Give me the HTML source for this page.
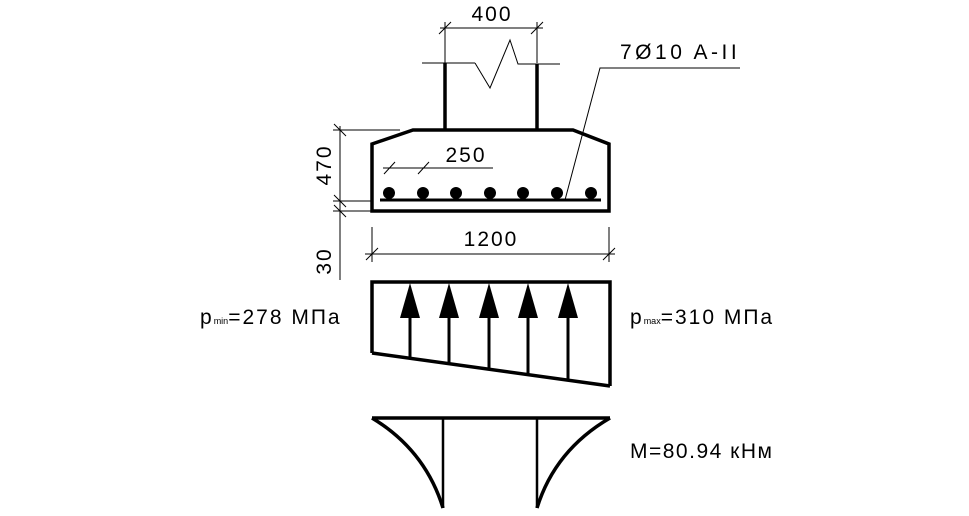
<!DOCTYPE html>
<html><head><meta charset="utf-8"><style>body{margin:0;background:#fff}svg{display:block}text{font-family:"Liberation Sans",sans-serif;fill:#000;font-weight:300}</style></head><body>
<svg width="969" height="516" viewBox="0 0 969 516" xmlns="http://www.w3.org/2000/svg">
<g stroke="#000" fill="none" stroke-width="1">
<line x1="422" y1="63" x2="475" y2="63"/>
<polyline points="475,63 490,88 510,40 518,64 560,64"/>
<line x1="445" y1="63" x2="445" y2="130" stroke-width="3.5"/>
<line x1="537" y1="64" x2="537" y2="130" stroke-width="3.5"/>
<line x1="445" y1="22" x2="445" y2="63"/><line x1="537" y1="22" x2="537" y2="63"/>
<line x1="440" y1="28" x2="543" y2="28"/>
<line x1="439" y1="34" x2="451" y2="22"/><line x1="531" y1="34" x2="543" y2="22"/>
<polygon points="372,144 413,130 573,130 609,144 609,211 372,211" stroke-width="3.5"/>
<line x1="380" y1="200" x2="601" y2="200" stroke-width="3"/>
<line x1="340" y1="126" x2="340" y2="280"/>
<line x1="333" y1="130" x2="400" y2="130"/>
<line x1="333" y1="201" x2="372" y2="201"/>
<line x1="333" y1="211" x2="372" y2="211"/>
<line x1="334" y1="124" x2="346" y2="136"/><line x1="334" y1="195" x2="346" y2="207"/><line x1="334" y1="205" x2="346" y2="217"/>
<line x1="383" y1="168" x2="493" y2="168"/>
<line x1="384" y1="174" x2="395" y2="162"/><line x1="418" y1="174" x2="429" y2="162"/>
<line x1="372" y1="227" x2="372" y2="262"/><line x1="609" y1="227" x2="609" y2="262"/>
<line x1="365" y1="254" x2="615" y2="254"/>
<line x1="366" y1="260" x2="378" y2="248"/><line x1="603" y1="260" x2="615" y2="248"/>
<polyline points="740,68 600,68 565,200"/>
<polyline points="372,353 372,282 610,282 610,386" stroke-width="3.5"/>
<line x1="372" y1="353" x2="610" y2="386" stroke-width="3.5"/>
<g stroke-width="3">
<line x1="410" y1="300" x2="410" y2="358"/><line x1="449" y1="300" x2="449" y2="364"/><line x1="489" y1="300" x2="489" y2="369"/><line x1="528" y1="300" x2="528" y2="375"/><line x1="568" y1="300" x2="568" y2="380"/>
</g>
<line x1="372" y1="418" x2="610" y2="418" stroke-width="3.5"/>
<path d="M372,418 Q425,450 443,508" stroke-width="3.5"/>
<path d="M610,418 Q555,450 537,508" stroke-width="3.5"/>
<line x1="443" y1="418" x2="443" y2="508" stroke-width="2.5"/>
<line x1="537" y1="418" x2="537" y2="508" stroke-width="2.5"/>
</g>
<g fill="#000">
<circle cx="389" cy="193" r="6"/><circle cx="423" cy="193" r="6"/><circle cx="456" cy="193" r="6"/><circle cx="490" cy="193" r="6"/><circle cx="523" cy="193" r="6"/><circle cx="557" cy="193" r="6"/><circle cx="591" cy="193" r="6"/>
<polygon points="410,283 400,318 420,318"/><polygon points="449,283 439,318 459,318"/><polygon points="489,283 479,318 499,318"/><polygon points="528,283 518,318 538,318"/><polygon points="568,283 558,318 578,318"/>
</g>
<g font-size="21" letter-spacing="2">
<text x="492" y="21" text-anchor="middle">400</text>
<text x="620" y="59" letter-spacing="3.5">7Ø10 A-II</text>
<text x="466" y="162" text-anchor="middle">250</text>
<text x="491" y="246" text-anchor="middle">1200</text>
<text transform="translate(331,165) rotate(-90)" text-anchor="middle">470</text>
<text transform="translate(331,261) rotate(-90)" text-anchor="middle">30</text>
<text x="200" y="324">p<tspan font-size="9" letter-spacing="0">min</tspan>=278 MПa</text>
<text x="630" y="324">p<tspan font-size="9" letter-spacing="0">max</tspan>=310 MПa</text>
<text x="630" y="458" letter-spacing="1.5">M=80.94 кНм</text>
</g>
</svg>
</body></html>
